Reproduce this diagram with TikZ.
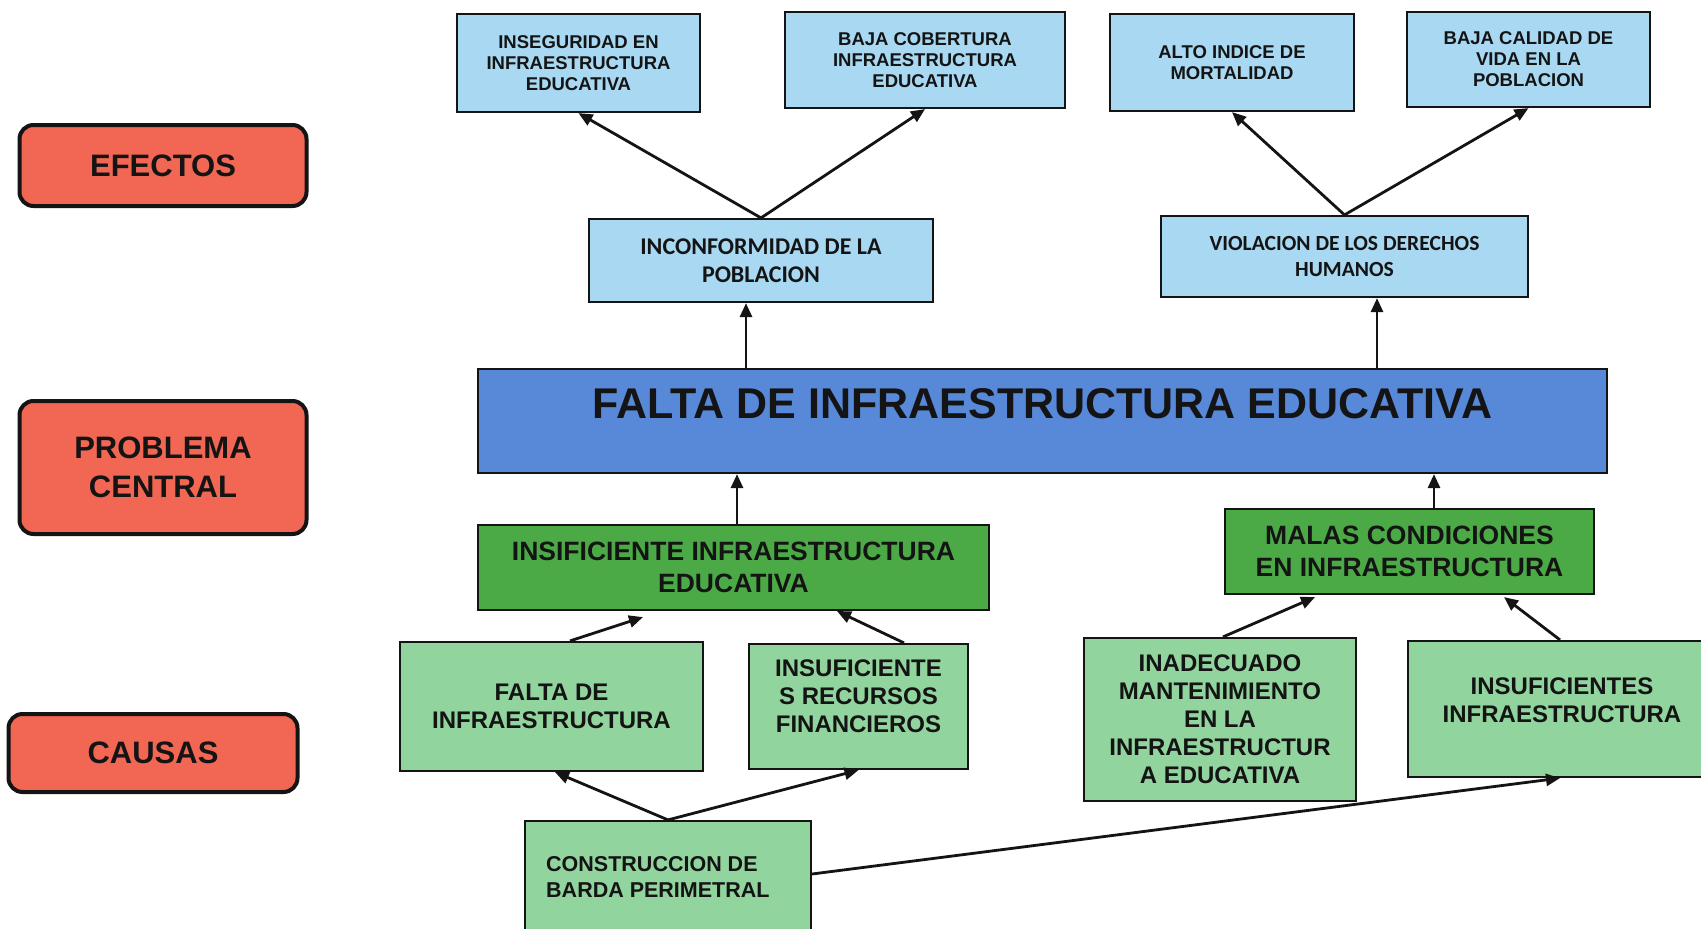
\documentclass[tikz,border=0pt]{standalone}
\usepackage{fontspec}
\setmainfont{Liberation Sans}
\newfontfamily\calib{Carlito}
\usetikzlibrary{arrows.meta,calc}
\definecolor{lblue}{RGB}{168,216,242}
\definecolor{cblue}{RGB}{88,136,216}
\definecolor{dgreen}{RGB}{76,170,70}
\definecolor{lgreen}{RGB}{146,212,158}
\definecolor{lred}{RGB}{242,102,84}
\definecolor{ink}{RGB}{20,20,20}
\begin{document}
\begin{tikzpicture}[x=1pt,y=-1pt,
  box/.style={draw=ink, line width=2.2pt, rectangle, align=center, inner sep=0pt, text=ink},
  effbox/.style={box, fill=lblue, font=\fontsize{18.5}{21}\selectfont\bfseries},
  midbox/.style={box, fill=lblue, font=\calib\fontsize{24}{28}\selectfont\bfseries},
  probbox/.style={box, fill=cblue},
  causebox/.style={box, fill=dgreen, font=\fontsize{26.5}{32.5}\selectfont\bfseries},
  subbox/.style={box, fill=lgreen, font=\fontsize{24}{28}\selectfont\bfseries},
  labelbox/.style={draw=ink, line width=4pt, rounded corners=14pt, fill=lred, align=center, inner sep=0pt, text=ink, font=\fontsize{31}{39}\selectfont\bfseries},
  arr/.style={draw=ink, line width=2.8pt, -{Triangle[length=14pt,width=12pt]}}
]
\useasboundingbox (0,0) rectangle (1701,929);
\fill[white] (0,0) rectangle (1701,929);

% side labels
\node[labelbox, minimum width=287pt, minimum height=81pt] (efectos) at (163,165.5) {EFECTOS};
\node[labelbox, minimum width=287pt, minimum height=133pt] (problema) at (163,467.5) {PROBLEMA\\CENTRAL};
\node[labelbox, minimum width=289pt, minimum height=78pt] (causas) at (153,753) {CAUSAS};

% effects
\node[effbox, minimum width=243pt, minimum height=98pt] (ins) at (578.5,63) {INSEGURIDAD EN\\INFRAESTRUCTURA\\EDUCATIVA};
\node[effbox, minimum width=280pt, minimum height=96pt] (baja) at (925,60) {BAJA COBERTURA\\INFRAESTRUCTURA\\EDUCATIVA};
\node[effbox, minimum width=244pt, minimum height=97pt] (alto) at (1232,62.5) {ALTO INDICE DE\\MORTALIDAD};
\node[effbox, minimum width=243pt, minimum height=95pt] (calidad) at (1528.5,59.5) {BAJA CALIDAD DE\\VIDA EN LA\\POBLACION};

\node[midbox, minimum width=344pt, minimum height=83pt] (inconf) at (761,260.5) {INCONFORMIDAD DE LA\\POBLACION};
\node[midbox, font=\calib\fontsize{21.6}{26}\selectfont\bfseries, minimum width=367pt, minimum height=81pt] (viol) at (1344.5,256.5) {VIOLACION DE LOS DERECHOS\\HUMANOS};

% central problem
\node[probbox, minimum width=1129pt, minimum height=104pt] (prob) at (1042.5,421) {};
\node[text=ink, font=\fontsize{43}{43}\selectfont\bfseries, inner sep=0pt] (probtext) at ([yshift=17pt]prob.center) {FALTA DE INFRAESTRUCTURA EDUCATIVA};

% causes
\node[causebox, minimum width=511pt, minimum height=85pt] (insif) at (733.5,567.5) {INSIFICIENTE INFRAESTRUCTURA\\EDUCATIVA};
\node[causebox, minimum width=369pt, minimum height=85pt] (malas) at (1409.5,551.5) {MALAS CONDICIONES\\EN INFRAESTRUCTURA};

\node[subbox, minimum width=303pt, minimum height=129pt] (falta) at (551.5,706.5) {FALTA DE\\INFRAESTRUCTURA};
\node[subbox, minimum width=219pt, minimum height=125pt] (recursos) at (858.5,706.5) {INSUFICIENTE\\S RECURSOS\\FINANCIEROS\\[-8pt]};
\node[subbox, minimum width=272pt, minimum height=163pt] (inadec) at (1220,719.5) {INADECUADO\\MANTENIMIENTO\\EN LA\\INFRAESTRUCTUR\\A EDUCATIVA};
\node[subbox, minimum width=308pt, minimum height=136pt] (insufinfra) at (1562,709) {INSUFICIENTES\\INFRAESTRUCTURA\\[-10pt]};
\node[subbox, minimum width=286pt, minimum height=124pt] (constr) at (668,883) {};
\node[text=ink, font=\fontsize{21.5}{25.5}\selectfont\bfseries, align=left, anchor=west, inner sep=0pt] (constrtext) at (546,877) {CONSTRUCCION DE\\BARDA PERIMETRAL};

% connectors
\draw[arr] (inconf.north) -- (ins.south);
\draw[arr] (inconf.north) -- (baja.south);
\draw[arr] (viol.north) -- (alto.south);
\draw[arr] (viol.north) -- (calidad.south);
\draw[arr] ([xshift=-15pt]inconf.south |- prob.north) -- ([xshift=-15pt]inconf.south);
\draw[arr] ([xshift=32.5pt]viol.south |- prob.north) -- ([xshift=32.5pt]viol.south);
\draw[arr] ([xshift=3.5pt]insif.north) -- ([xshift=3.5pt]insif.north |- prob.south);
\draw[arr] ([xshift=24.5pt]malas.north) -- ([xshift=24.5pt]malas.north |- prob.south);
\draw[arr] ([xshift=18.5pt]falta.north) -- ([xshift=-90.5pt,yshift=-6pt]insif.south);
\draw[arr] ([xshift=45.5pt]recursos.north) -- ([xshift=103.5pt]insif.south);
\draw[arr] ([xshift=3pt]inadec.north) -- ([xshift=-94.5pt,yshift=-2pt]malas.south);
\draw[arr] ([xshift=-2pt]insufinfra.north) -- ([xshift=94.5pt,yshift=-2pt]malas.south);
\draw[arr] (constr.north) -- ([xshift=3.5pt]falta.south);
\draw[arr] (constr.north) -- (recursos.south);
\draw[arr] ([yshift=9pt]constr.east) -- ([xshift=-2pt]insufinfra.south);
\end{tikzpicture}
\end{document}
